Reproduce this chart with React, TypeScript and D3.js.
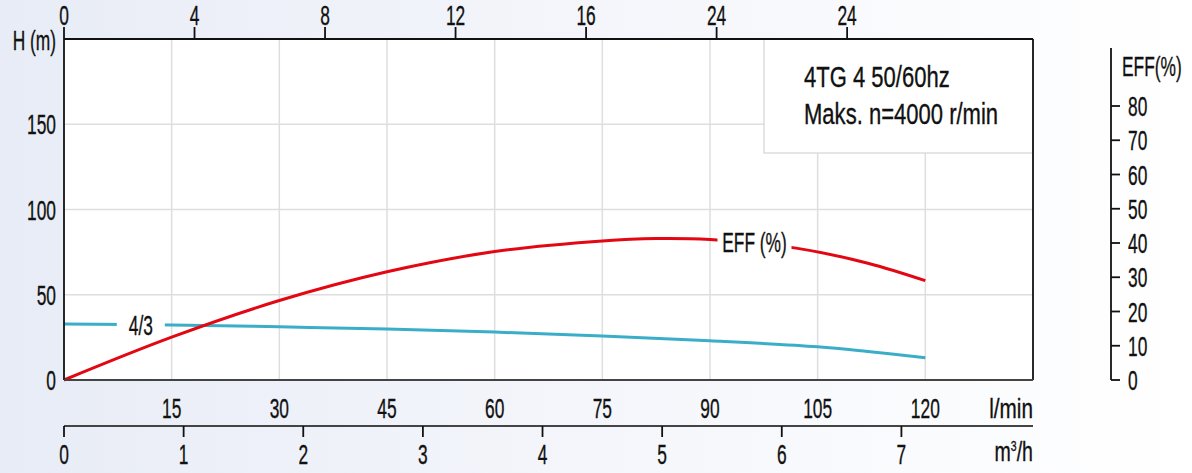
import React from "react";
import * as d3 from "d3";

// ---- data ----
const flowLmin = [0, 15, 30, 45, 60, 75, 90, 105, 112, 120];
const headM = [32.8, 32.3, 31.2, 29.9, 28.1, 25.8, 23.0, 19.5, 16.7, 13.0];
const effFlow = [0, 15, 30, 45, 60, 75, 82.5, 90, 102, 112, 120];
const effPct = [0, 12.5, 23.2, 31.6, 37.5, 40.6, 41.3, 41.0, 38.5, 34.1, 29.0];

const lminTicks = [15, 30, 45, 60, 75, 90, 105, 120];
const m3hTicks = [0, 1, 2, 3, 4, 5, 6, 7];
const topTicks = [0, 4, 8, 12, 16, 20, 24];
const topTickLabels = ["0", "4", "8", "12", "16", "24", "24"];
const headTicks = [0, 50, 100, 150];
const headGrid = [50, 100, 150];
const effTicks = [0, 10, 20, 30, 40, 50, 60, 70, 80];
const titleLines = ["4TG 4 50/60hz", "Maks. n=4000 r/min"];

const W = 1192;
const H = 473;
const FONT = "'Liberation Sans',Arial,sans-serif";

type TProps = {
  x: number;
  y: number;
  sx?: number;
  size?: number;
  anchor?: "start" | "middle" | "end";
  children: React.ReactNode;
};
function T({ x, y, sx = 0.62, size = 28, anchor = "start", children }: TProps) {
  return (
    <text
      transform={`translate(${x},${y}) scale(${sx},1)`}
      fontSize={size}
      textAnchor={anchor}
      fill="#111"
      stroke="#111"
      strokeWidth={0.35}
    >
      {children}
    </text>
  );
}

export default function App() {
  const left = 64, right = 1033, top = 39, bottom = 380;
  const lminMax = 135;
  const x = d3.scaleLinear().domain([0, lminMax]).range([left, right]);
  const xm3 = d3.scaleLinear().domain([0, lminMax / 16.6667]).range([left, right]);
  const xg = d3.scaleLinear().domain([0, lminMax / 4.546]).range([left, right]);
  const y = d3.scaleLinear().domain([0, 200]).range([bottom, top]);
  const ye = d3.scaleLinear().domain([0, 100]).range([bottom, 37.5]);

  const headLine = d3
    .line<number>()
    .x((_, i) => x(flowLmin[i]))
    .y((d) => y(d))
    .curve(d3.curveCatmullRom.alpha(0.5))(headM) as string;
  const effLine = d3
    .line<number>()
    .x((_, i) => x(effFlow[i]))
    .y((d) => ye(d))
    .curve(d3.curveCatmullRom.alpha(0.5))(effPct) as string;

  const axisX = 1111;
  const mid = 10;

  return (
    <svg width={W} height={H} style={{ position: "absolute", left: 0, top: 0 }} fontFamily={FONT}>
      <defs>
        <linearGradient id="bg" x1="0" y1="0" x2="1" y2="0">
          <stop offset="0" stopColor="#e8ecf6" />
          <stop offset="0.5" stopColor="#f4f6fb" />
          <stop offset="1" stopColor="#ffffff" />
        </linearGradient>
      </defs>
      <rect x={0} y={0} width={W} height={H} fill="url(#bg)" />
      <rect x={left} y={top} width={right - left} height={bottom - top} fill="#ffffff" />

      {/* grid */}
      {lminTicks.map((t) => (
        <line key={"vg" + t} x1={x(t)} x2={x(t)} y1={top} y2={bottom} stroke="#dedede" strokeWidth={1.5} />
      ))}
      {headGrid.map((t) => (
        <line key={"hg" + t} x1={left} x2={right} y1={y(t)} y2={y(t)} stroke="#dedede" strokeWidth={1.5} />
      ))}

      {/* title box */}
      <rect x={764} y={top} width={right - 764} height={153 - top} fill="#ffffff" stroke="#d4d4d4" strokeWidth={1.2} />
      {titleLines.map((t, i) => (
        <T key={t} x={804} y={87 + i * 37} size={29} sx={0.76}>
          {t}
        </T>
      ))}

      {/* head curve + label */}
      <path d={headLine} fill="none" stroke="#3aaec8" strokeWidth={3} />
      <rect x={x(10.7) - 24} y={312} width={48} height={28} fill="#ffffff" />
      <T x={x(10.7)} y={335} anchor="middle">
        4/3
      </T>

      {/* efficiency curve + label */}
      <path d={effLine} fill="none" stroke="#e30613" strokeWidth={3} />
      <rect x={x(96.2) - 37} y={228} width={74} height={28} fill="#ffffff" />
      <T x={x(96.2)} y={252} anchor="middle">
        EFF (%)
      </T>

      {/* plot frame */}
      <line x1={left} x2={right} y1={top} y2={top} stroke="#111" strokeWidth={1.8} />
      <line x1={left} x2={left} y1={27} y2={bottom} stroke="#111" strokeWidth={1.8} />
      <line x1={right} x2={right} y1={top} y2={bottom} stroke="#111" strokeWidth={1.8} />
      <line x1={left} x2={right} y1={bottom} y2={bottom} stroke="#444" strokeWidth={2} />

      {/* top axis (imp. gpm) */}
      {topTicks.map((t, i) => (
        <g key={"tt" + i}>
          {i > 0 && <line x1={xg(t)} x2={xg(t)} y1={top} y2={27} stroke="#111" strokeWidth={1.8} />}
          <T x={xg(t)} y={24.5} anchor="middle">
            {topTickLabels[i]}
          </T>
        </g>
      ))}

      {/* left axis */}
      <T x={56} y={50} anchor="end">
        H (m)
      </T>
      {headTicks.map((t) => (
        <T key={"ht" + t} x={56} y={y(t) + mid} anchor="end">
          {t}
        </T>
      ))}

      {/* l/min labels */}
      {lminTicks.map((t) => (
        <T key={"lt" + t} x={x(t)} y={418} anchor="middle">
          {t}
        </T>
      ))}
      <T x={right} y={418} anchor="end" sx={0.74}>
        l/min
      </T>

      {/* m3/h axis */}
      <line x1={left} x2={right} y1={426} y2={426} stroke="#444" strokeWidth={2} />
      {m3hTicks.map((t) => (
        <g key={"mt" + t}>
          <line x1={xm3(t)} x2={xm3(t)} y1={426} y2={437} stroke="#111" strokeWidth={1.8} />
          <T x={xm3(t)} y={464} anchor="middle">
            {t}
          </T>
        </g>
      ))}
      <T x={right} y={461} anchor="end" sx={0.7}>
        m<tspan fontSize={15} dy={-10}>3</tspan>
        <tspan dy={10}>/h</tspan>
      </T>

      {/* EFF axis */}
      <line x1={axisX} x2={axisX} y1={48} y2={ye(0)} stroke="#111" strokeWidth={1.8} />
      <T x={1122} y={76} sx={0.62}>
        EFF(%)
      </T>
      {effTicks.map((t) => (
        <g key={"et" + t}>
          <line x1={axisX} x2={axisX + 9} y1={ye(t)} y2={ye(t)} stroke="#111" strokeWidth={1.8} />
          <T x={1128} y={ye(t) + mid}>
            {t}
          </T>
        </g>
      ))}
    </svg>
  );
}
